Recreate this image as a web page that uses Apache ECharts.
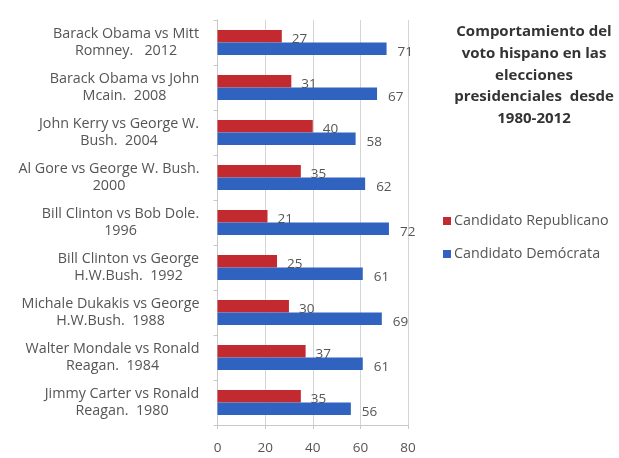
<!DOCTYPE html>
<html>
<head>
<meta charset="utf-8">
<script src="https://cdn.jsdelivr.net/npm/echarts@6/dist/echarts.min.js"></script>
<style>
  html, body { margin: 0; padding: 0; background: #fff; }
  #chart { width: 619px; height: 458px; }
</style>
</head>
<body>
<div id="chart"></div>
<script>
// Elections, newest first (top of the chart)
const categories = [
  'Barack Obama vs Mitt\nRomney.   2012',
  'Barack Obama vs John\nMcain.  2008',
  'John Kerry vs George W.\nBush.  2004',
  'Al Gore vs George W. Bush.\n2000',
  'Bill Clinton vs Bob Dole.\n1996',
  'Bill Clinton vs George\nH.W.Bush.  1992',
  'Michale Dukakis vs George\nH.W.Bush.  1988',
  'Walter Mondale vs Ronald\nReagan.  1984',
  'Jimmy Carter vs Ronald\nReagan.  1980'
];
const republicano = [27, 31, 40, 35, 21, 25, 30, 37, 35];
const democrata = [71, 67, 58, 62, 72, 61, 69, 61, 56];
const xTicks = [0, 20, 40, 60, 80];

const font = 'Open Sans';
const catFontSize = 14.3;

// Each category label is a right-aligned block whose lines are centred on each other:
// give every label its own rich style, as wide as its longest line.
const ctx = document.createElement('canvas').getContext('2d');
ctx.font = catFontSize + 'px "' + font + '"';
const catRich = {};
categories.forEach(function (c, i) {
  const w = Math.max.apply(null, c.split('\n').map(function (s) { return ctx.measureText(s).width; }));
  catRich['c' + i] = {
    width: Math.ceil(w),
    align: 'center',
    fontFamily: font,
    fontSize: catFontSize,
    color: '#555',
    lineHeight: 17
  };
});

const chart = echarts.init(document.getElementById('chart'), null, { renderer: 'canvas' });

chart.setOption({
  animation: false,
  backgroundColor: '#ffffff',
  title: {
    text: 'Comportamiento del\nvoto hispano en las\nelecciones\npresidenciales  desde\n1980-2012',
    left: 529,
    top: 16,
    textAlign: 'center',
    textStyle: {
      fontFamily: font,
      fontSize: 15,
      fontWeight: 'bold',
      color: '#333',
      lineHeight: 21.7
    }
  },
  legend: {
    orient: 'vertical',
    left: 438,
    top: 209,
    itemWidth: 8,
    itemHeight: 8,
    itemGap: 19,
    icon: 'rect',
    textStyle: { fontFamily: font, fontSize: 14.3, color: '#555', padding: [0, 0, 0, -2] },
    data: ['Candidato Republicano', 'Candidato Demócrata']
  },
  grid: { left: 217.5, right: 211, top: 20, bottom: 33 },
  xAxis: {
    type: 'value',
    min: xTicks[0],
    max: xTicks[xTicks.length - 1],
    interval: 20,
    axisLine: { show: true, lineStyle: { color: '#c8c8c8' } },
    axisTick: { show: true, length: 4, lineStyle: { color: '#c8c8c8' } },
    axisLabel: { fontFamily: font, fontSize: 13.5, color: '#555', margin: 16 },
    splitLine: { show: true, lineStyle: { color: '#d4d4d4' } }
  },
  yAxis: {
    type: 'category',
    inverse: true,
    data: categories,
    axisLine: { show: true, lineStyle: { color: '#c8c8c8' } },
    axisTick: { show: true, length: 4, lineStyle: { color: '#c8c8c8' } },
    axisLabel: {
      align: 'right',
      margin: 18,
      formatter: function (value, index) {
        return value.split('\n').map(function (s) { return '{c' + index + '|' + s + '}'; }).join('\n');
      },
      rich: catRich
    }
  },
  series: [
    {
      name: 'Candidato Republicano',
      type: 'bar',
      data: republicano,
      barWidth: 12.5,
      barGap: '0%',
      itemStyle: { color: '#c32a2f' },
      label: {
        show: true,
        position: 'right',
        distance: 10,
        offset: [0, 3],
        fontFamily: font,
        fontSize: 13.5,
        color: '#555'
      }
    },
    {
      name: 'Candidato Demócrata',
      type: 'bar',
      data: democrata,
      barWidth: 12.5,
      barGap: '0%',
      itemStyle: { color: '#2f63bf' },
      label: {
        show: true,
        position: 'right',
        distance: 11,
        offset: [0, 3],
        fontFamily: font,
        fontSize: 13.5,
        color: '#555'
      }
    }
  ]
});
</script>
</body>
</html>
